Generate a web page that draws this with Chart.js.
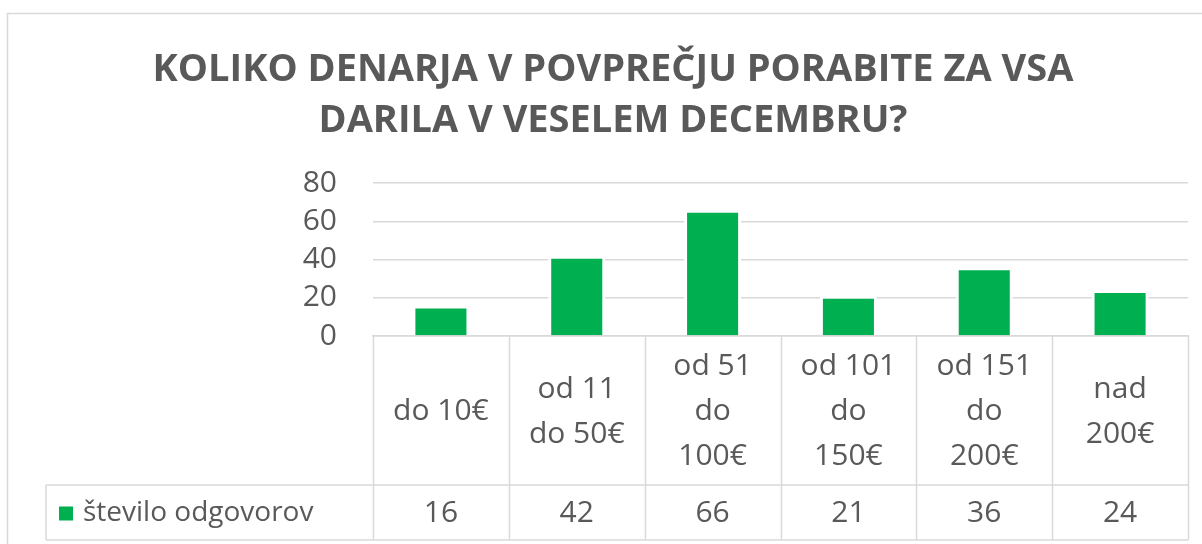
<!DOCTYPE html>
<html>
<head>
<meta charset="utf-8">
<script src="https://cdn.jsdelivr.net/npm/chart.js@4.4.1/dist/chart.umd.min.js"></script>
<style>
  html, body { margin: 0; padding: 0; background: #fff; }
  #wrap { width: 1202px; height: 544px; }
</style>
</head>
<body>
<div id="wrap"><canvas id="chart"></canvas></div>
<script>
const titleLines = ['KOLIKO DENARJA V POVPREČJU PORABITE ZA VSA', 'DARILA V VESELEM DECEMBRU?'];
const categories = ['do 10€', 'od 11 do 50€', 'od 51 do 100€', 'od 101 do 150€', 'od 151 do 200€', 'nad 200€'];
// how the labels wrap inside the table header cells
const categoryLines = [
    ['do 10€'],
    ['od 11', 'do 50€'],
    ['od 51', 'do', '100€'],
    ['od 101', 'do', '150€'],
    ['od 151', 'do', '200€'],
    ['nad', '200€']
];
const seriesName = 'število odgovorov';
const answers = [16, 42, 66, 21, 36, 24];
const yTicks = [0, 20, 40, 60, 80];

const textColor = '#595959';
const lineColor = '#d9d9d9';
const barColor = '#00b050';
const fontFamily = '"Open Sans", "Noto Sans", sans-serif';

// draws the outer frame and the data table under the plot
const dataTable = {
    id: 'dataTable',
    beforeDraw(chart) {
        const ctx = chart.ctx;
        ctx.save();
        ctx.strokeStyle = lineColor;
        ctx.lineWidth = 1.5;
        ctx.strokeRect(7.5, 13.5, 1400, 1000);
        ctx.restore();
    },
    afterDraw(chart) {
        const ctx = chart.ctx;
        const x = chart.scales.x;
        const top = x.top;
        const headBottom = top + 149;
        const rowBottom = headBottom + 55;
        const legendLeft = 46;
        const colW = (x.right - x.left) / categories.length;

        ctx.save();
        ctx.strokeStyle = lineColor;
        ctx.lineWidth = 1.5;
        ctx.beginPath();
        for (let i = 0; i <= categories.length; i++) {
            const px = Math.round(x.left + i * colW) + 0.5;
            ctx.moveTo(px, top);
            ctx.lineTo(px, rowBottom);
        }
        ctx.moveTo(legendLeft, headBottom);
        ctx.lineTo(x.right, headBottom);
        ctx.moveTo(legendLeft, rowBottom);
        ctx.lineTo(x.right, rowBottom);
        ctx.moveTo(legendLeft, headBottom);
        ctx.lineTo(legendLeft, rowBottom);
        ctx.stroke();

        ctx.fillStyle = textColor;
        ctx.font = '30px ' + fontFamily;
        ctx.textAlign = 'center';
        ctx.textBaseline = 'middle';
        const headMid = (top + headBottom) / 2 + 1;
        const rowMid = (headBottom + rowBottom) / 2 + 1;
        categoryLines.forEach((lines, i) => {
            const cx = x.getPixelForValue(i);
            lines.forEach((t, j) => {
                ctx.fillText(t, cx, headMid + (j - (lines.length - 1) / 2) * 45);
            });
            ctx.fillText(String(answers[i]), cx, rowMid);
        });

        ctx.fillStyle = barColor;
        ctx.fillRect(59, rowMid - 7, 14, 14);
        ctx.fillStyle = textColor;
        ctx.textAlign = 'left';
        ctx.font = '28px ' + fontFamily;
        ctx.fillText(seriesName, 83, rowMid);
        ctx.restore();
    }
};

new Chart(document.getElementById('chart'), {
    type: 'bar',
    data: {
        labels: categories,
        datasets: [{
            label: seriesName,
            data: answers,
            backgroundColor: barColor,
            borderColor: '#ffffff',
            borderWidth: 3,
            barPercentage: 0.42,
            categoryPercentage: 1
        }]
    },
    options: {
        responsive: true,
        maintainAspectRatio: false,
        animation: false,
        events: [],
        layout: { padding: { left: 38, right: 14, top: 0, bottom: 0 } },
        plugins: {
            legend: { display: false },
            tooltip: { enabled: false },
            title: {
                display: true,
                text: titleLines,
                color: textColor,
                font: { family: fontFamily, size: 38, weight: 'bold', lineHeight: 51 / 38 },
                padding: { top: 44.5, bottom: 36.5 }
            }
        },
        scales: {
            x: {
                grid: { display: false },
                border: { display: true, color: lineColor, width: 1.5 },
                ticks: { display: false },
                afterFit(scale) { scale.height = 208; }
            },
            y: {
                min: 0,
                max: 80,
                afterBuildTicks(scale) { scale.ticks = yTicks.map(v => ({ value: v })); },
                grid: { color: lineColor, lineWidth: 1.5, drawTicks: false },
                border: { display: false },
                ticks: {
                    color: textColor,
                    padding: 36,
                    autoSkip: false,
                    font: { family: fontFamily, size: 30 }
                },
                afterFit(scale) { scale.width = 335; }
            }
        }
    },
    plugins: [dataTable]
});
</script>
</body>
</html>
